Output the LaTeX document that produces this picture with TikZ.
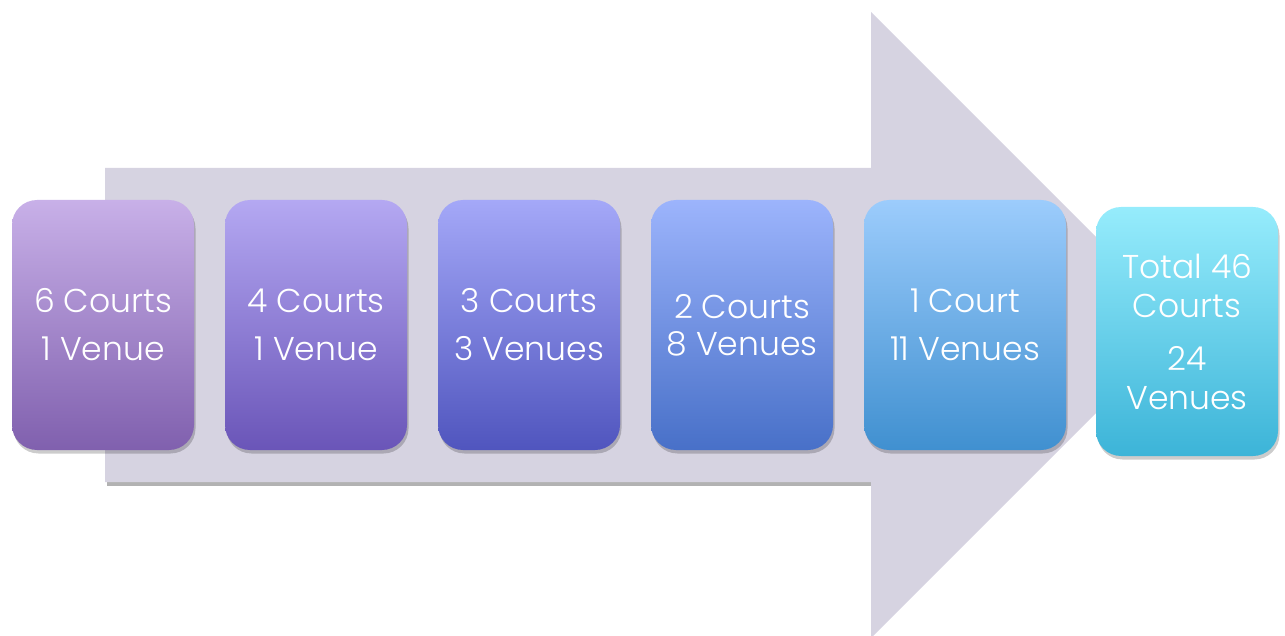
\documentclass[tikz,border=0pt]{standalone}
\usepackage{fontspec}
\setmainfont{Poppins}[UprightFont=* Light]
\usetikzlibrary{shadows}
\definecolor{arrowfill}{HTML}{D6D3E1}
\definecolor{aT}{HTML}{C8B0E8}\definecolor{aB}{HTML}{8060AE}
\definecolor{bT}{HTML}{B4A8F2}\definecolor{bB}{HTML}{6A55B8}
\definecolor{cT}{HTML}{A4A8F8}\definecolor{cB}{HTML}{5055BE}
\definecolor{dT}{HTML}{9CB4FC}\definecolor{dB}{HTML}{4870C8}
\definecolor{eT}{HTML}{9CCCFC}\definecolor{eB}{HTML}{4090D0}
\definecolor{fT}{HTML}{96ECFC}\definecolor{fB}{HTML}{3CB4D8}
\tikzset{
  card/.style={rectangle, rounded corners=25pt, minimum width=182pt, minimum height=250pt,
    inner sep=0pt, align=center, text=white, font=\fontsize{33}{39}\selectfont,
    drop shadow={shadow xshift=1.5pt, shadow yshift=-3.5pt, opacity=0.2, fill=black}},
}
\begin{document}
\begin{tikzpicture}[x=1pt,y=-1pt]
\useasboundingbox (0,0) rectangle (1285,636);
\fill[black!30] (107,172) -- (873,172) -- (873,486) -- (107,486) -- cycle;
\fill[arrowfill] (105,168) -- (871,168) -- (871,12) -- (1184,325) -- (871,638) -- (871,482) -- (105,482) -- cycle;
\node[card, top color=aT, bottom color=aB] (c1) at (103,325) {6 Courts\\[9pt]1 Venue};
\node[card, top color=bT, bottom color=bB] (c2) at (316,325) {4 Courts\\[9pt]1 Venue};
\node[card, top color=cT, bottom color=cB] (c3) at (529,325) {3 Courts\\[9pt]3 Venues};
\node[card, top color=dT, bottom color=dB] (c4) at (742,325) {2 Courts\\[-2pt]8 Venues};
\node[card, top color=eT, bottom color=eB, minimum width=202pt] (c5) at (965,325) {1 Court\\[9pt]11 Venues};
\node[card, top color=fT, bottom color=fB, minimum height=249pt] (c6) at (1187,331.5) {Total 46\\Courts\\[14pt]24\\Venues};
\end{tikzpicture}
\end{document}
